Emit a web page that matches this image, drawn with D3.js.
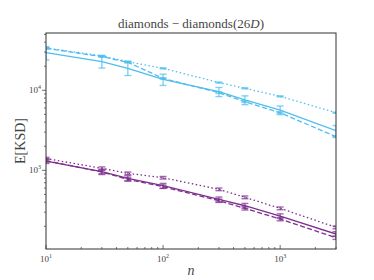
<!DOCTYPE html>
<html><head><meta charset="utf-8">
<script src="https://cdn.jsdelivr.net/npm/d3@7"></script>
<style>
html,body{margin:0;padding:0;background:#fff;}
svg{display:block;}
</style></head>
<body><svg id="chart" width="374" height="280"></svg>
<script>
// ---- data ----
const nValues = [10, 30, 50, 100, 300, 500, 1000, 3000];

const cyanSolid  = [29500, 22800, 18800, 13700, 9600, 7570, 5670, 3130];
const cyanSolidErr = [5500, 3800, 3500, 2200, 1250, 950, 700, 500];
const cyanDashed = [33500, 26300, 22400, 14100, 9330, 7200, 5250, 2630];
const cyanDashedErr = [700, 500, 400, 300, 200, 150, 110, 60];
const cyanDotted = [33800, 26900, 22800, 18800, 12500, 10600, 8400, 5250];
const cyanDottedErr = [500, 400, 350, 280, 190, 150, 120, 80];

const purpleSolid  = [1307, 961, 794, 642, 434, 361, 268, 160];
const purpleSolidErr = [90, 75, 60, 45, 30, 25, 18, 11];
const purpleDashed = [1320, 952, 772, 624, 417, 335, 246, 144];
const purpleDashedErr = [60, 45, 35, 30, 20, 16, 12, 7];
const purpleDotted = [1404, 1059, 917, 808, 579, 460, 335, 194];
const purpleDottedErr = [50, 45, 35, 30, 22, 18, 13, 8];

const xTickValues = [10, 100, 1000];
const xTickExps = ["1", "2", "3"];
const yTickValues = [1000, 10000];
const yTickExps = ["3", "4"];

const titleText = "diamonds − diamonds(26";
const xLabel = "n";
const yLabel = "E[KSD]";

const colors = {cyan: "#4DBEEE", purple: "#7E2F8E"};

const series = [
  {v: cyanSolid, e: cyanSolidErr, c: colors.cyan, dash: null},
  {v: cyanDashed, e: cyanDashedErr, c: colors.cyan, dash: "5,2.5"},
  {v: cyanDotted, e: cyanDottedErr, c: colors.cyan, dash: "1.5,2.5"},
  {v: purpleSolid, e: purpleSolidErr, c: colors.purple, dash: null},
  {v: purpleDashed, e: purpleDashedErr, c: colors.purple, dash: "5,2.5"},
  {v: purpleDotted, e: purpleDottedErr, c: colors.purple, dash: "1.5,2.5"},
];

// ---- layout ----
const L = 46, R = 336, T = 33, B = 249;
const serif = "'Liberation Serif','DejaVu Serif',serif";
const textCol = "#444";

const x = d3.scaleLog().domain([10, 3000]).range([L, R]);
const y = d3.scaleLog().domain([104, 52000]).range([B, T]);

const svg = d3.select("#chart");

svg.append("defs").append("clipPath").attr("id", "clip")
  .append("rect").attr("x", L).attr("y", T).attr("width", R - L).attr("height", B - T);

// minor ticks
const yMinor = [];
for (let k = 2; k <= 4; k++) for (let m = 1; m <= 9; m++) {
  const v = m * Math.pow(10, k);
  if (v >= 104 && v <= 52000) yMinor.push(v);
}
const xMinor = [];
for (let k = 1; k <= 3; k++) for (let m = 1; m <= 9; m++) {
  const v = m * Math.pow(10, k);
  if (v >= 10 && v <= 3000) xMinor.push(v);
}

const axisCol = "#333";
const g = svg.append("g");

// y ticks (outward)
g.selectAll(".ymin").data(yMinor).enter().append("line")
  .attr("x1", L).attr("x2", d => yTickValues.includes(d) ? L - 4 : L - 2)
  .attr("y1", d => y(d)).attr("y2", d => y(d))
  .attr("stroke", axisCol).attr("stroke-width", 0.7);
// x ticks (inward)
g.selectAll(".xmin").data(xMinor).enter().append("line")
  .attr("x1", d => x(d)).attr("x2", d => x(d))
  .attr("y1", B).attr("y2", d => xTickValues.includes(d) ? B - 4 : B - 2)
  .attr("stroke", axisCol).attr("stroke-width", 0.7);

// tick labels
const xl = g.selectAll(".xl").data(xTickValues).enter().append("text")
  .attr("x", d => x(d)).attr("y", 262).attr("text-anchor", "middle")
  .attr("font-family", serif).attr("font-size", 9).attr("fill", textCol);
xl.append("tspan").text("10");
xl.append("tspan").attr("font-size", 6).attr("dy", -4).text((d, i) => xTickExps[i]);

const yl = g.selectAll(".yl").data(yTickValues).enter().append("text")
  .attr("x", 41).attr("y", d => y(d) + 3).attr("text-anchor", "end")
  .attr("font-family", serif).attr("font-size", 9).attr("fill", textCol);
yl.append("tspan").text("10");
yl.append("tspan").attr("font-size", 6).attr("dy", -4).text((d, i) => yTickExps[i]);

// data
const plot = svg.append("g").attr("clip-path", "url(#clip)");
const line = d3.line().x((d, i) => x(nValues[i])).y(d => y(d));

series.forEach(s => {
  const eg = plot.append("g").attr("stroke", s.c).attr("stroke-opacity", 0.7).attr("stroke-width", 1.4);
  s.v.forEach((v, i) => {
    const cx = x(nValues[i]);
    const y1 = y(v - s.e[i]), y2 = y(v + s.e[i]);
    eg.append("line").attr("x1", cx).attr("x2", cx).attr("y1", y1).attr("y2", y2);
    eg.append("line").attr("x1", cx - 3.5).attr("x2", cx + 3.5).attr("y1", y1).attr("y2", y1);
    eg.append("line").attr("x1", cx - 3.5).attr("x2", cx + 3.5).attr("y1", y2).attr("y2", y2);
  });
  plot.append("path").datum(s.v).attr("d", line)
    .attr("fill", "none").attr("stroke", s.c).attr("stroke-width", 1.3)
    .attr("stroke-dasharray", s.dash);
});

// frame
svg.append("rect").attr("x", L).attr("y", T).attr("width", R - L).attr("height", B - T)
  .attr("fill", "none").attr("stroke", axisCol).attr("stroke-width", 1);

// title
const tt = svg.append("text").attr("x", (L + R) / 2).attr("y", 28).attr("text-anchor", "middle")
  .attr("font-family", serif).attr("font-size", 13).attr("fill", textCol);
tt.append("tspan").text(titleText);
tt.append("tspan").attr("font-style", "italic").text("D");
tt.append("tspan").text(")");

// axis labels
svg.append("text").attr("x", (L + R) / 2).attr("y", 275).attr("text-anchor", "middle")
  .attr("font-family", serif).attr("font-style", "italic").attr("font-size", 14).attr("fill", textCol)
  .text(xLabel);
svg.append("text").attr("transform", `translate(25,${(T + B) / 2}) rotate(-90)`)
  .attr("text-anchor", "middle")
  .attr("font-family", serif).attr("font-size", 14).attr("fill", textCol)
  .text(yLabel);
</script></body></html>
